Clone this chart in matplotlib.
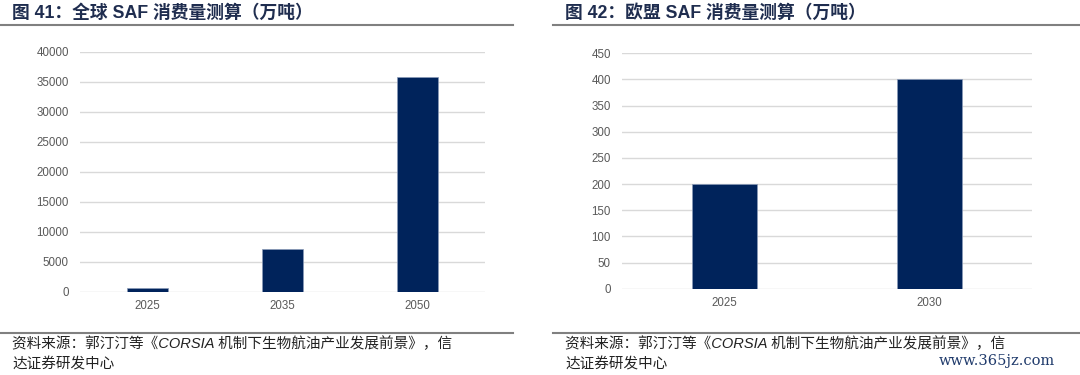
import matplotlib
matplotlib.use('Agg')
import matplotlib.pyplot as plt
from matplotlib.lines import Line2D

plt.rcParams['font.family'] = ['Liberation Sans', 'Noto Sans CJK SC', 'DejaVu Sans']

# Data
global_years  = ['2025', '2035', '2050']
global_values = [600, 7200, 35750]
global_ticks  = [0, 5000, 10000, 15000, 20000, 25000, 30000, 35000, 40000]

eu_years  = ['2025', '2030']
eu_values = [200, 400]
eu_ticks  = [0, 50, 100, 150, 200, 250, 300, 350, 400, 450]

title_left  = '图 41：全球 SAF 消费量测算（万吨）'
title_right = '图 42：欧盟 SAF 消费量测算（万吨）'
source_1 = '资料来源：郭汀汀等《CORSIA 机制下生物航油产业发展前景》，信'
source_2 = '达证券研发中心'

bar_color   = '#00235B'
grid_color  = '#D9D9D9'
tick_color  = '#595959'
title_color = '#1F2D4F'
rule_color  = '#808080'

fig = plt.figure(figsize=(10.8, 3.75), dpi=100)
fig.patch.set_facecolor('white')


def draw_bars(ax, cats, vals, ticks, width):
    x = range(len(cats))
    ax.bar(x, vals, width=width, color=bar_color, edgecolor='#8A9BB8',
           linewidth=0.5, zorder=3)
    ax.set_xticks(list(x))
    ax.set_xticklabels(cats)
    ax.set_xlim(-0.5, len(cats) - 0.5)
    ax.set_yticks(ticks)
    ax.set_ylim(0, ticks[-1])
    ax.yaxis.grid(True, color=grid_color, linewidth=1.0, zorder=0)
    ax.set_axisbelow(True)
    for s in ax.spines.values():
        s.set_visible(False)
    ax.tick_params(axis='both', length=0, labelsize=8.3, colors=tick_color,
                   pad=8)
    ax.tick_params(axis='x', pad=6)


ax1 = fig.add_axes([0.0741, 0.222, 0.375, 0.640])
draw_bars(ax1, global_years, global_values, global_ticks, 0.31)

ax2 = fig.add_axes([0.576, 0.230, 0.3796, 0.628])
draw_bars(ax2, eu_years, eu_values, eu_ticks, 0.317)

# Titles and rules
fig.text(12 / 1080, 1 - 13 / 375, title_left, fontsize=12.8, fontweight='bold',
         color=title_color, va='center', ha='left')
fig.text(565 / 1080, 1 - 13 / 375, title_right, fontsize=12.8, fontweight='bold',
         color=title_color, va='center', ha='left')

for x0, x1 in [(0, 513), (553, 1080)]:
    fig.add_artist(Line2D([x0 / 1080, x1 / 1080], [1 - 25 / 375] * 2,
                          color=rule_color, linewidth=1.5))
    fig.add_artist(Line2D([x0 / 1080, x1 / 1080], [1 - 333 / 375] * 2,
                          color=rule_color, linewidth=1.5))

# Sources
for x0 in [12, 565]:
    fig.text(x0 / 1080, 1 - 344 / 375, source_1, fontsize=10.5, color='#222222',
             va='center', ha='left', style='italic')
    fig.text(x0 / 1080, 1 - 365 / 375, source_2, fontsize=10.5, color='#222222',
             va='center', ha='left', style='italic')

fig.text(1055 / 1080, 1 - 361 / 375, 'www.365jz.com', fontsize=10.5,
         color='#1F3A6B', va='center', ha='right', family='DejaVu Serif')

fig.savefig('out.png', dpi=100, facecolor='white')
